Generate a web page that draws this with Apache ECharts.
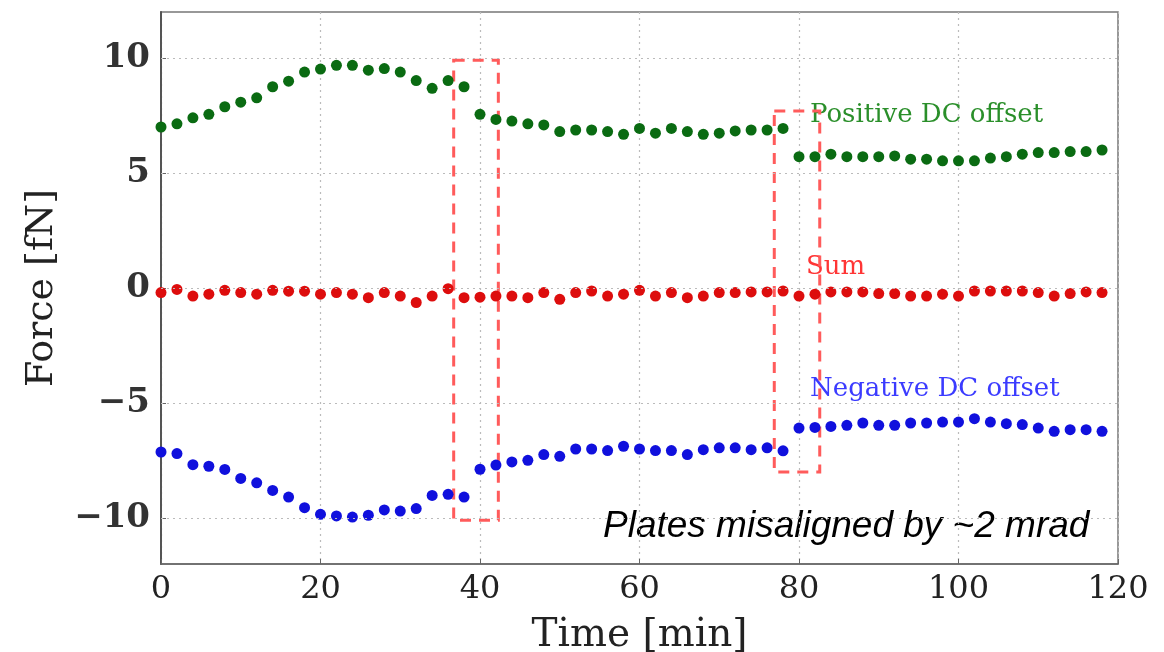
<!DOCTYPE html>
<html><head><meta charset="utf-8">
<script src="https://cdn.jsdelivr.net/npm/echarts@6/dist/echarts.min.js"></script>
<style>html,body{margin:0;padding:0;background:#fff}#c{width:1164px;height:652px}</style>
</head><body><div id="c"></div>
<script>
// time (min) of each sample
const timeMin = [0,2,4,6,8,10,12,14,16,18,20,22,24,26,28,30,32,34,36,38,
  40,42,44,46,48,50,52,54,56,58,60,62,64,66,68,70,72,74,76,78,
  80,82,84,86,88,90,92,94,96,98,100,102,104,106,108,110,112,114,116,118];
const positiveDC = [7.00,7.14,7.40,7.55,7.88,8.08,8.27,8.75,8.99,9.39,9.52,9.68,9.68,9.47,9.54,9.39,9.02,8.68,9.02,8.75,
  7.55,7.33,7.26,7.14,7.09,6.80,6.87,6.87,6.80,6.68,6.94,6.73,6.94,6.80,6.68,6.73,6.83,6.87,6.87,6.94,
  5.71,5.71,5.82,5.71,5.71,5.71,5.74,5.60,5.60,5.53,5.53,5.53,5.65,5.71,5.82,5.89,5.89,5.93,5.93,6.00];
const sumForce = [-0.20,-0.06,-0.35,-0.27,-0.10,-0.20,-0.27,-0.10,-0.14,-0.14,-0.27,-0.20,-0.27,-0.42,-0.20,-0.35,-0.63,-0.35,-0.03,-0.42,
  -0.40,-0.35,-0.35,-0.42,-0.20,-0.49,-0.20,-0.13,-0.35,-0.27,-0.10,-0.35,-0.20,-0.42,-0.35,-0.20,-0.20,-0.17,-0.17,-0.13,
  -0.35,-0.27,-0.17,-0.17,-0.17,-0.24,-0.24,-0.35,-0.35,-0.27,-0.35,-0.13,-0.13,-0.13,-0.13,-0.20,-0.35,-0.24,-0.17,-0.20];
const negativeDC = [-7.13,-7.20,-7.68,-7.75,-7.89,-8.28,-8.47,-8.80,-9.09,-9.55,-9.84,-9.91,-9.96,-9.88,-9.65,-9.70,-9.59,-9.02,-8.97,-9.09,
  -7.88,-7.70,-7.56,-7.49,-7.24,-7.32,-7.00,-7.00,-7.07,-6.88,-7.00,-7.07,-7.07,-7.24,-7.03,-6.95,-6.95,-7.03,-6.95,-7.08,
  -6.09,-6.06,-6.02,-5.97,-5.87,-5.97,-5.97,-5.87,-5.87,-5.83,-5.83,-5.68,-5.83,-5.90,-5.94,-6.09,-6.23,-6.16,-6.16,-6.23];
// dashed highlight boxes: [xStart, xEnd], [yBottom, yTop]
const boxX = [[36.7,42.3],[76.9,82.6]];
const boxY = [[-10.1,9.9],[-8.0,7.7]];
const xTicks = [0,20,40,60,80,100,120];
const yTicks = [-10,-5,0,5,10];

const serif = '"DejaVu Serif", "Liberation Serif", serif';
const pair = (ys) => timeMin.map((t,i)=>[t, ys[i]]);
const chart = echarts.init(document.getElementById('c'), null, {renderer:'canvas'});
const fmtY = v => (v<0 ? '\u2212'+Math.abs(v) : String(v));
const dot = {type:[2,4],width:1.2,color:'#bbb'};
chart.setOption({
  animation:false,
  backgroundColor:'#fff',
  grid:{left:161,right:46,top:12,bottom:88,outerBoundsMode:'none',containLabel:false,
    show:true,borderColor:'#777',borderWidth:1.5,backgroundColor:'transparent'},
  xAxis:{type:'value',min:0,max:120,interval:20,
    name:'Time [min]',nameLocation:'middle',nameGap:52,
    nameTextStyle:{fontFamily:serif,fontSize:39,color:'#222'},
    axisLine:{show:true,onZero:false,lineStyle:{color:'#666',width:1.5}},
    axisTick:{show:true,inside:true,length:5,lineStyle:{color:'#666'}},
    axisLabel:{fontFamily:serif,fontSize:32,color:'#222',margin:10},
    splitLine:{show:true,lineStyle:dot}},
  yAxis:{type:'value',min:-12,max:12,
    name:'Force [fN]',nameLocation:'middle',nameGap:100,nameRotate:90,
    nameTextStyle:{fontFamily:serif,fontSize:38,color:'#222'},
    axisLine:{show:true,onZero:false,lineStyle:{color:'#555',width:2}},
    axisTick:{show:true,inside:true,length:5,customValues:yTicks,lineStyle:{color:'#666'}},
    axisLabel:{fontFamily:serif,fontSize:34,fontWeight:'bold',color:'#333',margin:11,
      customValues:yTicks,formatter:fmtY},
    splitLine:{show:false}},
  series:[
    {type:'scatter',name:'Positive DC offset',data:pair(positiveDC),symbolSize:11,itemStyle:{color:'#0a6b12',opacity:1},z:3,
      markLine:{silent:true,symbol:'none',label:{show:false},lineStyle:dot,animation:false,
        data:yTicks.map(v=>({yAxis:v}))}},
    {type:'scatter',name:'Sum',data:pair(sumForce),symbolSize:11,itemStyle:{color:'#dd0d0d',opacity:1},z:3},
    {type:'scatter',name:'Negative DC offset',data:pair(negativeDC),symbolSize:11,itemStyle:{color:'#1010dd',opacity:1},z:3},
    {type:'scatter',name:'boxes',data:[],zlevel:1,z:10,
      markArea:{silent:true,
        itemStyle:{color:'rgba(0,0,0,0)',borderColor:'#ff5b5b',borderWidth:3,borderType:[11,8]},
        data: boxX.map((bx,i)=>[{coord:[bx[0],boxY[i][1]]},{coord:[bx[1],boxY[i][0]]}])}}
  ],
  graphic:[
    {type:'text',left:810,top:102,style:{text:'Positive DC offset',font:'26px '+serif,fill:'#2a8f2a'}},
    {type:'text',left:806,top:254,style:{text:'Sum',font:'26px '+serif,fill:'#ff3535'}},
    {type:'text',left:810,top:376,style:{text:'Negative DC offset',font:'26px '+serif,fill:'#3b3bff'}},
    {type:'text',left:603,top:508,style:{text:'Plates misaligned by ~2 mrad',font:'italic 37px "Liberation Sans", Arial, sans-serif',fill:'#000'}}
  ]
});
</script></body></html>
